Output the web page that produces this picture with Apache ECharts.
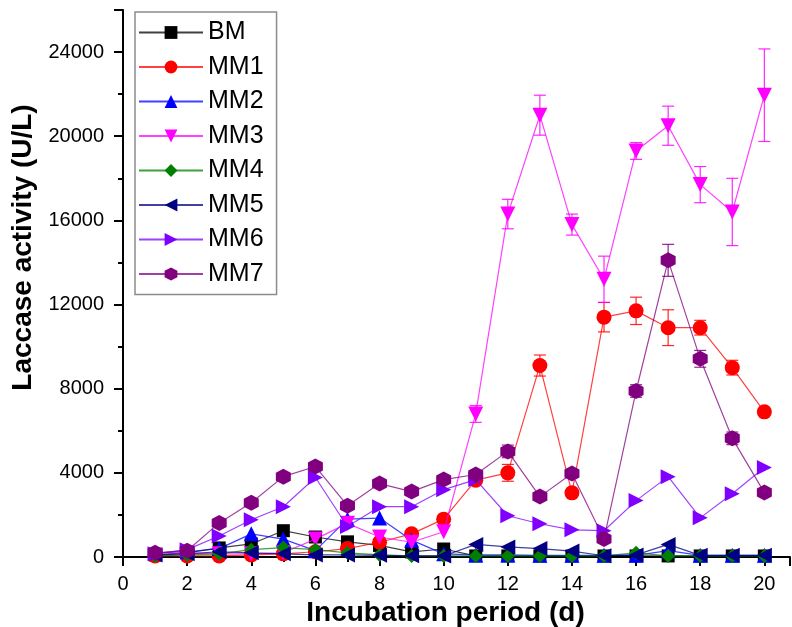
<!DOCTYPE html>
<html><head><meta charset="utf-8">
<script src="https://cdn.jsdelivr.net/npm/echarts@6/dist/echarts.min.js"></script>
<style>html,body{margin:0;padding:0;background:#fff}#c{width:792px;height:627px}</style>
</head><body><div id="c"></div>
<script>
var days = [1,2,3,4,5,6,7,8,9,10,11,12,13,14,15,16,17,18,19,20];
var seriesNames = ['BM','MM1','MM2','MM3','MM4','MM5','MM6','MM7'];
var BM  = [100,200,430,620,1250,950,720,550,240,380,50,50,50,50,50,50,50,50,50,50];
var MM1 = [50,50,50,100,150,250,400,700,1100,1800,3650,4000,9100,3050,11400,11700,10900,10900,9000,6900];
var MM2 = [200,250,400,1100,850,300,1800,1850,800,150,100,100,80,80,80,80,300,80,80,80];
var MM3 = [100,200,150,150,200,850,1600,950,700,1200,6800,16300,21000,15800,13200,19300,20500,17700,16400,21950];
var MM4 = [50,100,150,350,450,350,200,100,50,50,50,50,50,50,50,200,50,50,50,50];
var MM5 = [100,150,250,200,150,100,100,80,60,50,600,480,400,280,60,100,600,80,80,80];
var MM6 = [150,350,1000,1770,2390,3780,1450,2390,2390,3200,3680,1960,1580,1290,1250,2680,3820,1860,3010,4250];
var MM7 = [200,300,1620,2580,3820,4300,2440,3490,3110,3680,3920,5020,2870,3970,860,7890,14100,9420,5640,3060];
var MM1err = [0,0,0,0,0,0,0,0,0,0,100,400,500,150,700,650,850,350,350,100];
var MM3err = [0,0,0,0,0,0,0,0,0,0,400,700,950,500,1100,400,930,860,1600,2200];
var MM7err = [0,0,0,0,0,200,0,0,0,0,0,300,0,0,0,300,760,400,300,0];
var xTickLabels = ['0','2','4','6','8','10','12','14','16','18','20'];
var yTickLabels = ['0','4000','8000','12000','16000','20000','24000'];

var colors = ['#000000','#ff0000','#0000ff','#ff00ff','#008000','#000080','#8000ff','#800080'];
var hexPath = 'path://M0,-1 L0.866,-0.5 L0.866,0.5 L0,1 L-0.866,0.5 L-0.866,-0.5 Z';
var symbols = ['rect','circle','triangle','triangle','diamond','triangle','triangle',hexPath];
var rotates = [0,0,0,180,0,90,-90,0];
var sizes = [13,15,15,15,14,15,15,[15,16]];
var allData = [BM,MM1,MM2,MM3,MM4,MM5,MM6,MM7];

function pairs(vals){ return days.map(function(d,i){ return [d, vals[i]]; }); }

var series = [];
allData.forEach(function(vals, k){
  series.push({
    name: seriesNames[k], type:'line', data: pairs(vals),
    symbol: symbols[k], symbolRotate: rotates[k], symbolSize: sizes[k],
    showAllSymbol: true,
    itemStyle:{color: colors[k]},
    lineStyle:{color: colors[k], width:1.2, opacity:0.75},
    z: 3 + k
  });
});

function errSeries(vals, errs, color, z){
  var d = days.map(function(x,i){ return [x, vals[i], errs[i]]; }).filter(function(r){ return r[2] > 0; });
  return {
    type:'custom', data:d, z:z, silent:true,
    renderItem: function(params, api){
      var x = api.value(0), y = api.value(1), e = api.value(2);
      var top = api.coord([x, y + e]);
      var bot = api.coord([x, y - e]);
      var w = 6;
      var st = {stroke: color, lineWidth: 1.2, opacity:0.85};
      return {type:'group', children:[
        {type:'line', shape:{x1:top[0], y1:top[1], x2:bot[0], y2:bot[1]}, style:st},
        {type:'line', shape:{x1:top[0]-w, y1:top[1], x2:top[0]+w, y2:top[1]}, style:st},
        {type:'line', shape:{x1:bot[0]-w, y1:bot[1], x2:bot[0]+w, y2:bot[1]}, style:st}
      ]};
    }
  };
}
series.push(errSeries(MM1, MM1err, '#ff0000', 2));
series.push(errSeries(MM3, MM3err, '#ff00ff', 2));
series.push(errSeries(MM7, MM7err, '#800080', 2));

var font = 'Liberation Sans, Arial';
var chart = echarts.init(document.getElementById('c'), null, {renderer:'canvas'});
chart.setOption({
  animation:false,
  backgroundColor:'#fff',
  grid:{left:123, right:2, top:10, bottom:70, containLabel:false, outerBoundsMode:'none'},
  legend:{
    data: seriesNames, orient:'vertical', left:135, top:12,
    itemWidth:64, itemHeight:16, itemGap:9.5,
    padding:[8,13,8,3],
    borderColor:'#8c8c8c', borderWidth:1.5,
    textStyle:{fontFamily:font, fontSize:25, color:'#000'}
  },
  xAxis:{
    type:'value', min:0, max:20.8, interval:2,
    axisLine:{lineStyle:{color:'#000', width:2}},
    axisTick:{inside:false, length:9, lineStyle:{color:'#000', width:2}},
    minorTick:{show:true, splitNumber:2, length:5, lineStyle:{color:'#000', width:2}},
    splitLine:{show:false},
    axisLabel:{fontFamily:font, fontSize:20, color:'#000', margin:17, showMaxLabel:false,
      formatter:function(v){ var s = String(Math.round(v)); return xTickLabels.indexOf(s) >= 0 ? s : ''; }},
    name:'Incubation period (d)', nameLocation:'middle', nameGap:39,
    nameTextStyle:{fontFamily:font, fontSize:28, fontWeight:'bold', color:'#000', padding:[0,22,0,0]}
  },
  yAxis:{
    type:'value', min:0, max:26000, interval:4000,
    axisLine:{show:true, lineStyle:{color:'#000', width:2}},
    axisTick:{show:true, inside:false, length:9, lineStyle:{color:'#000', width:2}},
    minorTick:{show:true, splitNumber:2, length:5, lineStyle:{color:'#000', width:2}},
    splitLine:{show:false},
    axisLabel:{fontFamily:font, fontSize:20, color:'#000', margin:19, showMaxLabel:false,
      formatter:function(v){ var s = String(Math.round(v)); return yTickLabels.indexOf(s) >= 0 ? s : ''; }},
    name:'Laccase activity (U/L)', nameLocation:'middle', nameGap:84,
    nameTextStyle:{fontFamily:font, fontSize:28, fontWeight:'bold', color:'#000', padding:[0,0,0,72]}
  },
  series: series
});
</script></body></html>
